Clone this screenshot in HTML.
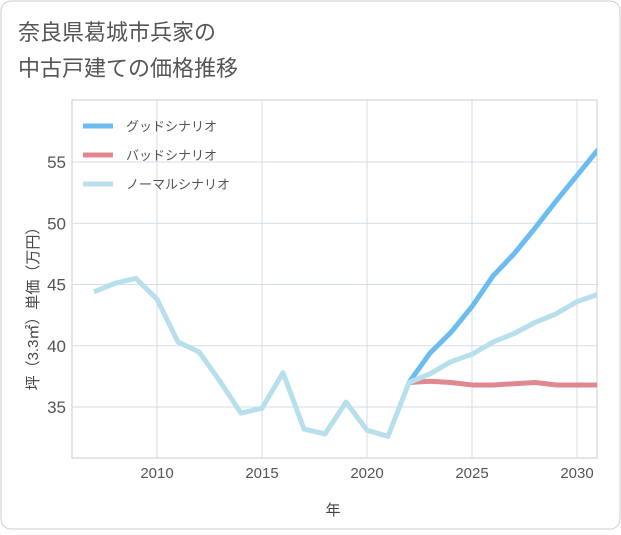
<!DOCTYPE html>
<html><head><meta charset="utf-8"><style>
body{margin:0;background:#fff;font-family:"Liberation Sans","Noto Sans CJK JP",sans-serif;}
#wrap{position:relative;width:621px;height:530px;}
</style></head><body>
<div id="wrap">
<svg id="svg" width="621" height="530" xmlns="http://www.w3.org/2000/svg">
<rect x="1" y="1" width="619" height="528" rx="10" fill="#fff" stroke="#ccc"/>
<text x="18" y="40" font-size="22" fill="#555" style="font-family:'Liberation Sans','Noto Sans CJK JP',sans-serif">奈良県葛城市兵家の</text>
<text x="18" y="76" font-size="22" fill="#555" style="font-family:'Liberation Sans','Noto Sans CJK JP',sans-serif">中古戸建ての価格推移</text>
<g id="grid"></g>
<g id="series"></g>
<g id="legend"></g>
<text x="333" y="515" font-size="15" fill="#444" text-anchor="middle" style="font-family:'Liberation Sans','Noto Sans CJK JP',sans-serif">年</text>
<text transform="translate(38,305) rotate(-90)" font-size="15" fill="#444" text-anchor="middle" style="font-family:'Liberation Sans','Noto Sans CJK JP',sans-serif">坪（3.3㎡）単価（万円）</text>
</svg>
</div>
<script>
const years=[2007,2008,2009,2010,2011,2012,2013,2014,2015,2016,2017,2018,2019,2020,2021,2022,2023,2024,2025,2026,2027,2028,2029,2030,2031];
const normalVals=[44.4,45.1,45.5,43.8,40.3,39.5,37.1,34.5,34.9,37.8,33.2,32.8,35.4,33.1,32.6,37.0,37.7,38.7,39.3,40.3,41.0,41.9,42.6,43.6,44.2];
const forecastYears=[2022,2023,2024,2025,2026,2027,2028,2029,2030,2031];
const goodVals=[37.0,39.4,41.1,43.2,45.7,47.5,49.6,51.8,53.9,56.0];
const badVals=[37.0,37.1,37.0,36.8,36.8,36.9,37.0,36.8,36.8,36.8];
const xTicks=[2010,2015,2020,2025,2030];
const yTicks=[35,40,45,50,55];
const ns="http://www.w3.org/2000/svg";
const L=72,R=597,T=100,B=458;
const xs=y=>157+(y-2010)*21;
const ys=v=>407-(v-35)*12.25;
const grid=document.getElementById('grid');
function mk(tag,attrs,parent){const e=document.createElementNS(ns,tag);for(const k in attrs)e.setAttribute(k,attrs[k]);parent.appendChild(e);return e;}
const bg=mk('rect',{x:L,y:T,width:R-L,height:B-T,fill:'#fff',stroke:'#ccc'},grid);


xTicks.forEach(t=>{
 const l=mk('line',{x1:xs(t),x2:xs(t),y1:T,y2:B,stroke:'#d5dde5'},grid);
 
 
 const tx=mk('text',{x:xs(t),y:B+20,'font-size':15,fill:'#555','text-anchor':'middle'},grid);
 tx.textContent=t;
 
 
});
yTicks.forEach(t=>{
 const l=mk('line',{x1:L,x2:R,y1:ys(t),y2:ys(t),stroke:'#d5dde5'},grid);
 
 
 const tx=mk('text',{x:L-6,y:ys(t)+6,'font-size':17,fill:'#555','text-anchor':'end'},grid);
 tx.textContent=t;
 
 
});
const ser=document.getElementById('series');
function line(xv,yv,color,name){
 const d=xv.map((x,i)=>(i?'L':'M')+xs(x)+','+ys(yv[i])).join(' ');
 const p=mk('path',{d:d,fill:'none',stroke:color,'stroke-width':5,'stroke-linejoin':'round'},ser);
 
 
}
const cp=mk('clipPath',{id:'cp'},document.getElementById('svg'));
mk('rect',{x:L,y:T,width:R-L,height:B-T},cp);
ser.setAttribute('clip-path','url(#cp)');
line(forecastYears,badVals,'#e08890','bad-scenario-line');
line(forecastYears,goodVals,'#6bbcf0','good-scenario-line');
line(years,normalVals,'#b7dfec','normal-scenario-line');
const leg=document.getElementById('legend');
[['グッドシナリオ','#6bbcf0'],['バッドシナリオ','#e08890'],['ノーマルシナリオ','#b7dfec']].forEach((e,i)=>{
 const y=126+i*29;
 const l=mk('line',{x1:83,x2:113,y1:y,y2:y,stroke:e[1],'stroke-width':5},leg);
 
 
 const t=mk('text',{x:126,y:y+5,'font-size':13,fill:'#555'},leg);
 t.textContent=e[0];
 
 
});
</script>
</body></html>
